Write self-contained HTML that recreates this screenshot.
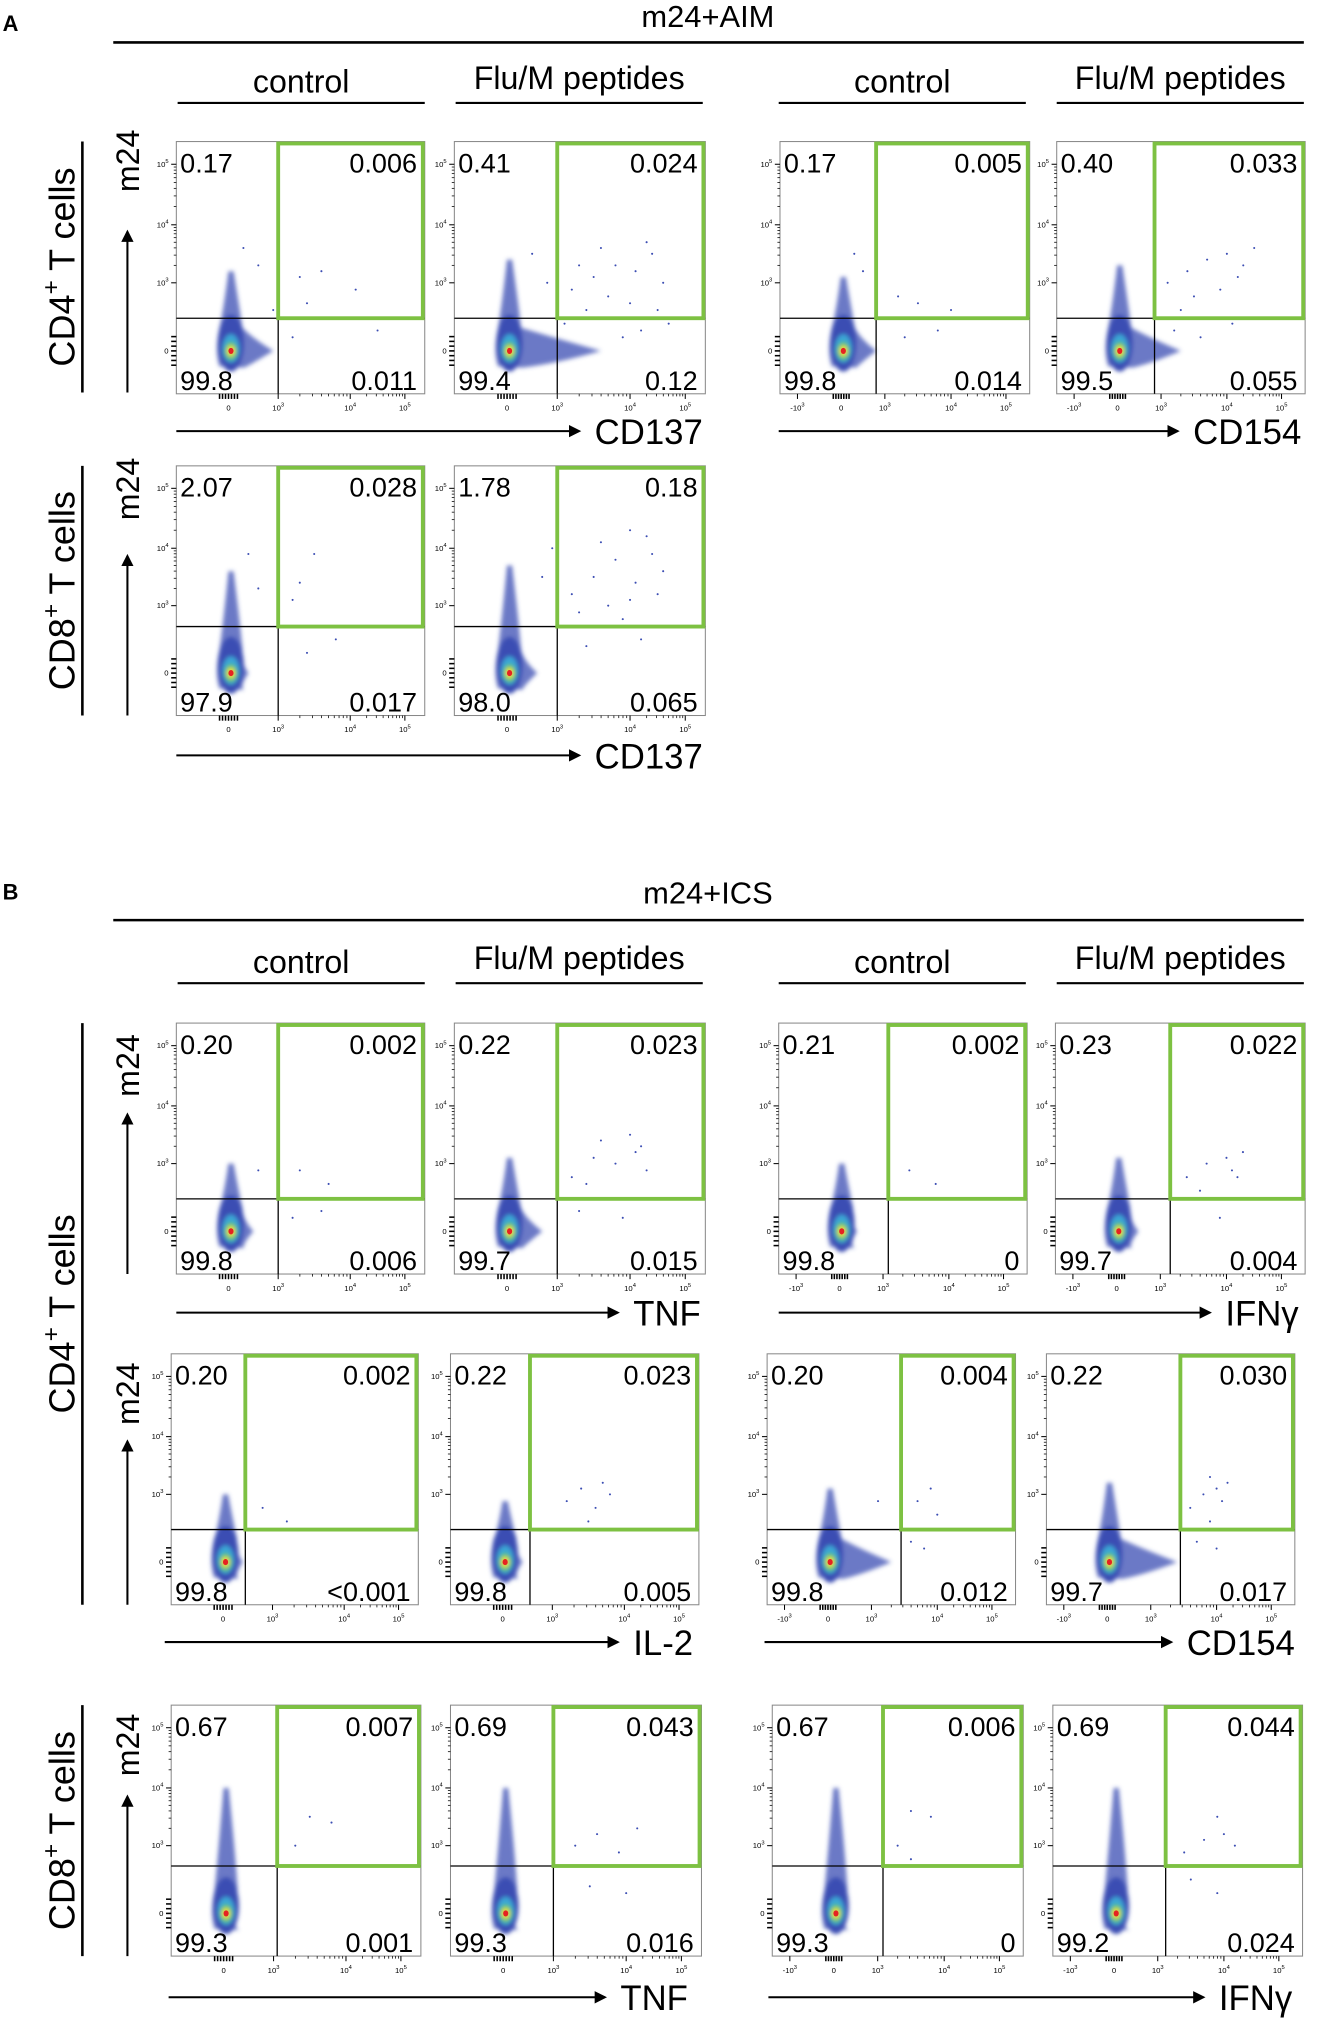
<!DOCTYPE html>
<html><head><meta charset="utf-8"><style>
html,body{margin:0;padding:0;background:#fff}
svg{display:block}
text{font-family:"Liberation Sans",Arial,sans-serif;fill:#000}
</style></head><body>
<svg id="fig" width="1318" height="2023" viewBox="0 0 1024 1572" preserveAspectRatio="none" xmlns="http://www.w3.org/2000/svg">
<defs><marker id="ah" markerWidth="6" markerHeight="6" refX="5" refY="3" orient="auto" markerUnits="strokeWidth"><path d="M0,0 L6,3 L0,6 z" fill="#000"/></marker>
<filter id="soft" x="-50%" y="-50%" width="200%" height="200%"><feGaussianBlur stdDeviation="1.6"/></filter></defs>
<g id="static">
<text x="2" y="24" font-size="17" font-weight="bold">A</text>
<text x="550" y="21" font-size="24" text-anchor="middle">m24+AIM</text>
<line x1="88" y1="33" x2="1013" y2="33" stroke="#000" stroke-width="2"/>
<text x="2" y="699" font-size="17" font-weight="bold">B</text>
<text x="550" y="702" font-size="24" text-anchor="middle">m24+ICS</text>
<line x1="88" y1="715" x2="1013" y2="715" stroke="#000" stroke-width="2"/>
</g>
</svg>
<script>
// ---- data ----
const headerTexts=["control","Flu/M peptides","control","Flu/M peptides"];
const headerRowsY=[[72,80],[756,764]];
const headerSpans=[[138,330],[354,546],[605,797],[821,1013]];
const pctA1=[["0.17","0.006","99.8","0.011"],["0.41","0.024","99.4","0.12"],["0.17","0.005","99.8","0.014"],["0.40","0.033","99.5","0.055"]];
const pctA2=[["2.07","0.028","97.9","0.017"],["1.78","0.18","98.0","0.065"]];
const pctB1=[["0.20","0.002","99.8","0.006"],["0.22","0.023","99.7","0.015"],["0.21","0.002","99.8","0"],["0.23","0.022","99.7","0.004"]];
const pctB2=[["0.20","0.002","99.8","<0.001"],["0.22","0.023","99.8","0.005"],["0.20","0.004","99.8","0.012"],["0.22","0.030","99.7","0.017"]];
const pctB3=[["0.67","0.007","99.3","0.001"],["0.69","0.043","99.3","0.016"],["0.67","0.006","99.3","0"],["0.69","0.044","99.2","0.024"]];
const gateXA1=[1.0,1.0,0.8,0.85], gateYA1=[0.48,0.48,0.48,0.48];
const gateXA2=[1.0,1.0], gateYA2=[0.69,0.69];
const gateXB1=[1.0,1.0,1.08,1.15], gateYB1=[0.48,0.48,0.48,0.48];
const gateXB2=[0.45,0.55,1.45,1.45], gateYB2=[0.48,0.48,0.48,0.48];
const gateXB3=[1.05,1.0,1.08,1.12], gateYB3=[0.7,0.7,0.7,0.7];
const popA1=[[1.2,0.9],[1.4,1.6],[1.1,0.8],[1.3,1.3]];
const popA2=[[1.6,0.4],[1.7,0.6]];
const popB1=[[1.0,0.5],[1.1,0.7],[1.0,0.4],[1.1,0.5]];
const popB2=[[1.0,0.4],[0.9,0.4],[1.1,1.3],[1.2,1.4]];
const popB3=[[2.0,0.3],[2.0,0.3],[2.0,0.3],[2.0,0.3]];
const evA1=[[[1.3,1.1],[1.6,1.2],[2.1,0.9],[1.4,0.7],[2.5,0.3],[1.2,0.2],[0.6,1.3],[0.9,0.6],[0.3,1.6]],
 [[1.2,0.9],[1.5,1.1],[1.8,1.3],[2.1,1.2],[2.4,1.5],[1.7,0.8],[2.0,0.7],[2.6,1.0],[1.4,0.6],[2.2,0.3],[1.9,0.2],[2.7,0.4],[1.6,1.6],[2.3,1.7],[1.3,1.3],[2.5,0.6],[1.1,0.4],[0.8,1.0],[0.5,1.5]],
 [[1.2,0.8],[1.5,0.7],[2.0,0.6],[1.3,0.2],[1.8,0.3],[0.5,1.2],[0.3,1.5]],
 [[1.1,1.0],[1.4,1.2],[1.7,1.4],[2.0,1.5],[2.3,1.3],[1.5,0.8],[1.9,0.9],[2.5,1.6],[1.2,0.3],[1.6,0.2],[2.1,0.4],[1.3,0.6],[2.2,1.1]]];
const evA2=[[[1.3,1.4],[1.5,1.9],[1.2,1.1],[1.8,0.5],[1.4,0.3],[0.4,1.9],[0.6,1.3]],
 [[1.2,1.2],[1.5,1.5],[1.8,1.8],[2.1,1.4],[2.4,1.9],[1.6,2.1],[2.0,1.1],[2.6,1.6],[1.3,0.9],[1.9,0.8],[2.3,2.2],[1.4,0.4],[2.2,0.5],[2.5,1.2],[0.7,1.5],[0.9,2.0],[1.7,1.0],[2.0,2.3]]];
const evB1=[[[1.3,0.9],[1.7,0.7],[1.2,0.2],[1.6,0.3],[0.6,0.9]],
 [[1.2,0.8],[1.5,1.1],[1.8,1.0],[2.1,1.2],[2.3,0.9],[1.6,1.4],[2.0,1.5],[1.3,0.3],[1.9,0.2],[1.4,0.7],[2.2,1.3]],
 [[1.4,0.9],[1.8,0.7]],
 [[1.4,0.8],[1.7,1.0],[2.0,1.1],[2.2,0.8],[1.6,0.6],[2.3,1.2],[1.9,0.2],[2.1,0.9]]];
const evB2=[[[0.8,0.8],[1.2,0.6]],
 [[1.2,0.9],[1.4,1.1],[1.6,0.8],[1.8,1.0],[1.5,0.6],[1.7,1.2]],
 [[1.7,0.9],[1.9,1.1],[2.0,0.7],[1.6,0.3],[1.8,0.2],[1.1,0.9]],
 [[1.6,0.8],[1.8,1.0],[2.0,1.1],[2.1,0.9],[1.9,0.6],[2.2,1.2],[1.7,0.3],[2.0,0.2],[1.9,1.3]]];
const evB3=[[[1.5,1.5],[1.8,1.4],[1.3,1.0]],
 [[1.3,1.0],[1.6,1.2],[1.9,0.9],[2.2,1.3],[1.5,0.4],[2.0,0.3]],
 [[1.5,1.6],[1.8,1.5],[1.3,1.0],[1.5,0.8]],
 [[1.4,0.9],[1.7,1.1],[2.0,1.2],[2.2,1.0],[1.9,1.5],[1.5,0.5],[1.9,0.3]]];
const tickLabels=["0","3","4","5"];
const tickLabelsNeg=["-3","0","3","4","5"];
</script>
<script>
const NS="http://www.w3.org/2000/svg";
const svg=document.getElementById('fig');
function mk(tag,attrs,parent){const e=document.createElementNS(NS,tag);for(const k in attrs)e.setAttribute(k,attrs[k]);(parent||svg).appendChild(e);return e;}
const GREEN="#7dc142";
headerRowsY.forEach((r,ri)=>{headerTexts.forEach((t,i)=>{const s=headerSpans[i];
 const tx=mk('text',{x:(s[0]+s[1])/2,y:r[1]-8+(i%2?-3:0),'font-size':25,'text-anchor':'middle'});tx.textContent=t;
 
 
 const ln=mk('line',{x1:s[0],x2:s[1],y1:r[1],y2:r[1],stroke:'#000','stroke-width':1.6});
 
 
});});
function xScaleFor(p){const tv=p.neg?[-1,0,1,2,3]:[0,1,2,3];const tf=p.neg?[0.07,0.245,0.42,0.685,0.905]:[0.21,0.41,0.70,0.92];
 return {tv,tf,f:u=>{let i=0;while(i<tv.length-2&&u>tv[i+1])i++;if(u<tv[0])i=0;const t=(u-tv[i])/(tv[i+1]-tv[i]);return p.x+p.w*(tf[i]+t*(tf[i+1]-tf[i]));}};}
const yv=[0,1,2,3],yf=[0.83,0.56,0.33,0.09];
function yScale(p,u){let i=0;while(i<2&&u>yv[i+1])i++;const t=(u-yv[i])/(yv[i+1]-yv[i]);return p.y+p.h*(yf[i]+t*(yf[i+1]-yf[i]));}
function plot(p,pct,gx,gy,pop,ev,name){
 const g=mk('g',{});
 const xs=xScaleFor(p);const X=xs.f,Y=u=>yScale(p,u);
 const cx=X(0.05),cy=Y(0);
 const pg=mk('g',{},g);
 const topY=Y(pop[0]),rightX=X(pop[1]);
 const bl=mk('g',{filter:'url(#soft)'},pg);
 mk('path',{d:`M${cx-9},${cy+12} Q${cx-13},${cy} ${cx-9},${cy-18} Q${cx-6},${(cy+topY)/2} ${cx-2},${topY} L${cx+2},${topY} Q${cx+7},${(cy+topY)/2} ${cx+9},${cy-18} Q${(cx+rightX)/2},${cy-10} ${rightX},${cy} Q${(cx+rightX)/2},${cy+10} ${cx+10},${cy+13} Z`,fill:'#3b4db3',opacity:0.75},bl);
 mk('ellipse',{cx:cx,cy:cy-6,rx:10,ry:22,fill:'#3b4db3'},bl);
 mk('ellipse',{cx:cx,cy:cy-2,rx:6.5,ry:11,fill:'#3aa6d6'},bl);
 mk('ellipse',{cx:cx,cy:cy,rx:4.8,ry:7,fill:'#5cc46a'},bl);
 mk('ellipse',{cx:cx,cy:cy,rx:3.2,ry:4.2,fill:'#eee040'},bl);
 mk('ellipse',{cx:cx,cy:cy,rx:2,ry:2.4,fill:'#e52222'},pg);
 ev.forEach(e=>{const c=mk('circle',{cx:X(e[0]),cy:Y(e[1]),r:0.8,fill:'#3b4db3'},g);});
 const fr=mk('rect',{x:p.x,y:p.y,width:p.w,height:p.h,fill:'none',stroke:'#888','stroke-width':0.8},g);
 
 const gxp=X(gx),gyp=Y(gy);
 mk('line',{x1:p.x,x2:gxp,y1:gyp,y2:gyp,stroke:'#000','stroke-width':1},g);
 mk('line',{x1:gxp,x2:gxp,y1:gyp,y2:p.y+p.h,stroke:'#000','stroke-width':1},g);
 mk('line',{x1:gxp,x2:p.x+p.w,y1:gyp,y2:gyp,stroke:'#000','stroke-width':1},g);
 const gate=mk('rect',{x:gxp,y:p.y+1.5,width:p.x+p.w-gxp-1.5,height:gyp-p.y-1.5,fill:'none',stroke:GREEN,'stroke-width':3},g);
 
 xs.tv.forEach((v,i)=>{const x=X(v);mk('line',{x1:x,x2:x,y1:p.y+p.h,y2:p.y+p.h+4,stroke:'#000','stroke-width':0.8},g);
  const lab=(p.neg?tickLabelsNeg:tickLabels)[i];const t=mk('text',{x:x,y:p.y+p.h+13,'font-size':6,'text-anchor':'middle'},g);
  if(lab==="0")t.textContent="0";else{const b=mk('tspan',{},t);b.textContent=lab[0]==='-'?'-10':'10';const s=mk('tspan',{dy:-3,'font-size':4.5},t);s.textContent=lab.replace('-','');}
  for(let k=2;k<10&&v>=1&&v<3;k++){const mx=X(v+Math.log10(k));mk('line',{x1:mx,x2:mx,y1:p.y+p.h,y2:p.y+p.h+2,stroke:'#000','stroke-width':0.6},g);}
 });
 for(let k=-3;k<=3;k++){const mx=X(k*0.06);mk('line',{x1:mx,x2:mx,y1:p.y+p.h,y2:p.y+p.h+4,stroke:'#000','stroke-width':1.2},g);}
 yv.forEach(v=>{const y=Y(v);mk('line',{x1:p.x-4,x2:p.x,y1:y,y2:y,stroke:'#000','stroke-width':0.8},g);
  const t=mk('text',{x:p.x-6,y:y+2,'font-size':6,'text-anchor':'end'},g);
  if(v===0)t.textContent="0";else{const b=mk('tspan',{},t);b.textContent='10';const s=mk('tspan',{dy:-3,'font-size':4.5},t);s.textContent=String(v+2);}
  for(let k=2;k<10&&v>=1&&v<3;k++){const my=Y(v+Math.log10(k));mk('line',{x1:p.x-2,x2:p.x,y1:my,y2:my,stroke:'#000','stroke-width':0.6},g);}
 });
 for(let k=-3;k<=3;k++){const my=Y(k*0.07);mk('line',{x1:p.x-4,x2:p.x,y1:my,y2:my,stroke:'#000','stroke-width':1.2},g);}
 const fs=21;
 const pos=[[p.x+3,p.y+24,'start'],[p.x+p.w-6,p.y+24,'end'],[p.x+3,p.y+p.h-3,'start'],[p.x+p.w-6,p.y+p.h-3,'end']];
 const nn=['pct-top-left','pct-gate','pct-bottom-left','pct-bottom-right'];
 pos.forEach((q,i)=>{const t=mk('text',{x:q[0],y:q[1],'font-size':fs,'text-anchor':q[2]},g);t.textContent=pct[i];});
}
function row(xs,y,h,negs,pcts,gxs,gy,pops,evs,name){xs.forEach((x,i)=>plot({x:x[0],w:x[1]-x[0],y:y,h:h,neg:negs[i]},pcts[i],gxs[i],gy[i],pops[i],evs[i],name+'-plot-'+(i+1)));}
row([[137,330],[353,548],[606,800],[821,1014]],110,196,[0,0,1,1],pctA1,gateXA1,gateYA1,popA1,evA1,'aim-cd4');
row([[137,330],[353,548]],362,194,[0,0],pctA2,gateXA2,gateYA2,popA2,evA2,'aim-cd8');
row([[137,330],[353,548],[605,798],[820,1014]],795,195,[0,0,1,1],pctB1,gateXB1,gateYB1,popB1,evB1,'ics-cd4-tnf-ifng');
row([[133,325],[350,543],[596,789],[813,1006]],1052,195,[0,0,1,1],pctB2,gateXB2,gateYB2,popB2,evB2,'ics-cd4-il2-cd154');
row([[133,327],[350,545],[600,795],[818,1012]],1325,195,[0,0,1,1],pctB3,gateXB3,gateYB3,popB3,evB3,'ics-cd8-tnf-ifng');
function xArrow(x1,x2,y,label,name){const l=mk('line',{x1:x1,x2:x2,y1:y,y2:y,stroke:'#000','stroke-width':1.6,'marker-end':'url(#ah)'});
 const t=mk('text',{x:x2+12,y:y+10,'font-size':27});t.textContent=label;}
xArrow(137,450,335,'CD137','aim-cd4-cd137');xArrow(605,915,335,'CD154','aim-cd4-cd154');
xArrow(137,450,587,'CD137','aim-cd8-cd137');
xArrow(137,480,1020,'TNF','ics-tnf');xArrow(605,940,1020,'IFNγ','ics-ifng');
xArrow(128,480,1276,'IL-2','ics-il2');xArrow(594,910,1276,'CD154','ics-cd154');
xArrow(131,470,1552,'TNF','ics-cd8-tnf');xArrow(597,935,1552,'IFNγ','ics-cd8-ifng');
function yArrow(x,y1,y2,ty,name){const l=mk('line',{x1:x,x2:x,y1:y1,y2:y2,stroke:'#000','stroke-width':1.6,'marker-end':'url(#ah)'});
 const t=mk('text',{x:0,y:0,'font-size':25,'text-anchor':'middle',transform:`translate(${x+9},${ty}) rotate(-90)`});t.textContent='m24';}
yArrow(99,305,180,125,'aim-cd4-m24');yArrow(99,556,432,380,'aim-cd8-m24');
yArrow(99,990,866,828,'ics-cd4-m24-1');yArrow(99,1247,1120,1083,'ics-cd4-m24-2');yArrow(99,1520,1396,1356,'ics-cd8-m24');
function rowLabel(y1,y2,main,name){const l=mk('line',{x1:64,x2:64,y1:y1,y2:y2,stroke:'#000','stroke-width':2});
 const t=mk('text',{'font-size':28,'text-anchor':'middle',transform:`translate(58,${(y1+y2)/2}) rotate(-90)`});
 const a=mk('tspan',{},t);a.textContent=main;const s=mk('tspan',{dy:-12,'font-size':19},t);s.textContent='+';const b=mk('tspan',{dy:12},t);b.textContent=' T cells';
 }
rowLabel(110,305,'CD4','aim-cd4-row-label');rowLabel(362,556,'CD8','aim-cd8-row-label');
rowLabel(795,1247,'CD4','ics-cd4-row-label');rowLabel(1325,1520,'CD8','ics-cd8-row-label');
</script>
</body></html>
